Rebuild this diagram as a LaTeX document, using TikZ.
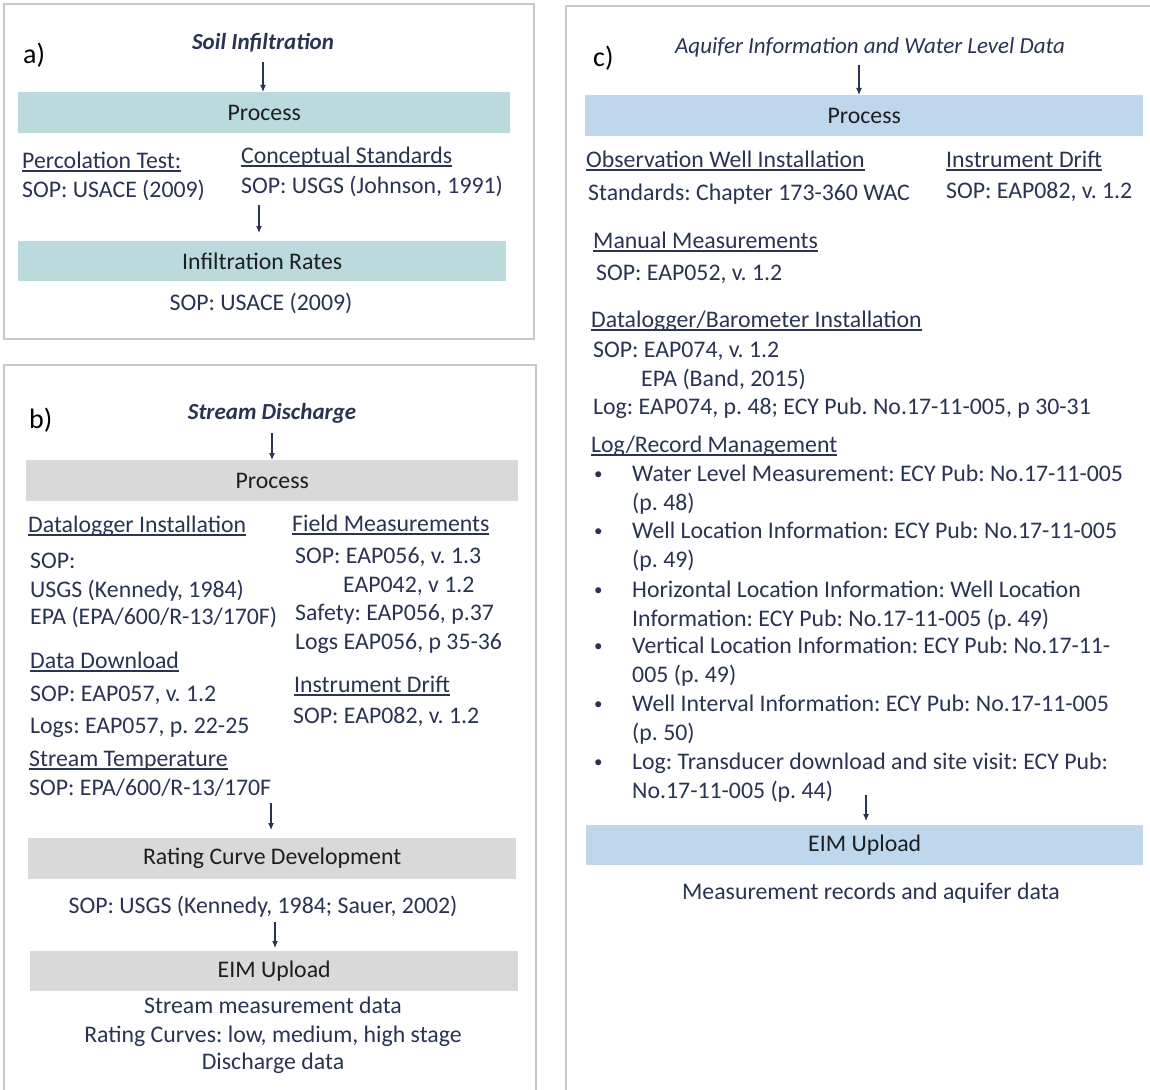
\documentclass[tikz,border=0pt]{standalone}
\usepackage{fontspec}
\setmainfont{Carlito}
\usetikzlibrary{arrows.meta}

\definecolor{navy}{RGB}{40,52,82}
\definecolor{bartext}{RGB}{30,30,30}
\definecolor{framegray}{RGB}{200,200,200}
\definecolor{tealbar}{RGB}{186,218,222}
\definecolor{graybar}{RGB}{217,217,217}
\definecolor{bluebar}{RGB}{190,215,236}

% underlined heading
\newcommand{\hdline}[1]{\setbox0\hbox{#1}\rlap{\rule[-3.5pt]{\wd0}{1.8pt}}\box0}

\tikzset{
  panel/.style={draw=framegray, line width=1.8pt},
  bar/.style={anchor=north west, inner sep=0pt, text=bartext},
  item/.style={anchor=base west, inner sep=0pt, text=navy},
  citem/.style={anchor=base, inner sep=0pt, text=navy},
  tag/.style={anchor=base west, inner sep=0pt, font=\fontsize{28}{30}\selectfont},
  flow/.style={draw=navy, line width=1.1pt, -{Latex[length=7pt,width=6pt]}}
}

\begin{document}
\frenchspacing
\begin{tikzpicture}[x=1pt,y=-1pt,font=\fontsize{23.8}{29}\selectfont]
  \useasboundingbox (0,0) rectangle (1150,1089);
  \fill[white] (0,0) rectangle (1150,1089);

  % Frames of the three panels
  \begin{scope}
    \clip (0,0) rectangle (1150,1089);
    \draw[panel] (4,4) rectangle (534,339);
    \draw[panel] (4,365) rectangle (536,1100);
    \draw[panel] (566,6) rectangle (1170,1100);
  \end{scope}

  % ---------------- a) Soil infiltration
  \node[tag] (tagA) at (23,64) {a)};
  \node[citem, font=\fontsize{23}{29}\selectfont\bfseries\itshape] (titleA) at (263,50) {Soil Infiltration};
  \node[bar, fill=tealbar, minimum width=492pt, minimum height=41pt] (procA) at (18,92) {Process};
  \node[item] (percA) at (22,168) {\hdline{Percolation Test:}};
  \node[item] (percSopA) at (22,197) {SOP: USACE (2009)};
  \node[item] (concA) at (241,163) {\hdline{Conceptual Standards}};
  \node[item] (concSopA) at (241,193) {SOP: USGS (Johnson, 1991)};
  \node[bar, fill=tealbar, minimum width=488pt, minimum height=40pt] (rateA) at (18,241) {Infiltration Rates};
  \node[citem] (rateSopA) at (261,310) {SOP: USACE (2009)};

  \coordinate (inA) at (263,62);
  \coordinate (midA) at (259,205);
  \draw[flow] (inA) -- (procA.north -| inA);
  \draw[flow, shorten >=8pt] (midA) -- (rateA.north -| midA);

  % ---------------- b) Stream discharge
  \node[tag] (tagB) at (29,428) {b)};
  \node[citem, font=\fontsize{23}{29}\selectfont\bfseries\itshape] (titleB) at (272,419) {Stream Discharge};
  \node[bar, fill=graybar, minimum width=492pt, minimum height=41pt] (procB) at (26,460) {Process};

  \node[item] (logB) at (28,532) {\hdline{Datalogger Installation}};
  \node[item] at (30,568) {SOP:};
  \node[item] at (30,597) {USGS (Kennedy, 1984)};
  \node[item] at (30,624) {EPA (EPA/600/R-13/170F)};
  \node[item] (dlB) at (30,668) {\hdline{Data Download}};
  \node[item] at (30,701) {SOP: EAP057, v. 1.2};
  \node[item] at (30,733) {Logs: EAP057, p. 22-25};
  \node[item] (tempB) at (29,766) {\hdline{Stream Temperature}};
  \node[item] (tempSopB) at (29,795) {SOP: EPA/600/R-13/170F};

  \node[item] (fieldB) at (292,531) {\hdline{Field Measurements}};
  \node[item] at (295,563) {SOP: EAP056, v. 1.3};
  \node[item] at (343,592) {EAP042, v 1.2};
  \node[item] at (295,620) {Safety: EAP056, p.37};
  \node[item] at (295,649) {Logs EAP056, p 35-36};
  \node[item] (driftB) at (294,692) {\hdline{Instrument Drift}};
  \node[item] at (293,723) {SOP: EAP082, v. 1.2};

  \node[bar, fill=graybar, minimum width=488pt, minimum height=41pt] (rateB) at (28,838) {Rating Curve Development};
  \node[citem] (rateSopB) at (263,913) {SOP: USGS (Kennedy, 1984; Sauer, 2002)};
  \node[bar, fill=graybar, minimum width=488pt, minimum height=40pt] (eimB) at (30,951) {EIM Upload};
  \node[citem] (outB1) at (273,1013) {Stream measurement data};
  \node[citem] (outB2) at (273,1042) {Rating Curves: low, medium, high stage};
  \node[citem] (outB3) at (273,1069) {Discharge data};

  \coordinate (inB) at (272,433);
  \coordinate (midB) at (271,803);
  \coordinate (lowB) at (275,922);
  \draw[flow] (inB) -- (procB.north -| inB);
  \draw[flow, shorten >=8pt] (midB) -- (rateB.north -| midB);
  \draw[flow, shorten >=3pt] (lowB) -- (eimB.north -| lowB);

  % ---------------- c) Aquifer information
  \node[tag] (tagC) at (593,67) {c)};
  \node[citem, font=\fontsize{23}{29}\selectfont\itshape] (titleC) at (870,54) {Aquifer Information and Water Level Data};
  \node[bar, fill=bluebar, minimum width=558pt, minimum height=41pt] (procC) at (585,95) {Process};

  \node[item] (wellC) at (586,167) {\hdline{Observation Well Installation}};
  \node[item] at (588,200) {Standards: Chapter 173-360 WAC};
  \node[item] (driftC) at (946,167) {\hdline{Instrument Drift}};
  \node[item] at (946,198) {SOP: EAP082, v. 1.2};
  \node[item] (manC) at (593,248) {\hdline{Manual Measurements}};
  \node[item] at (596,280) {SOP: EAP052, v. 1.2};
  \node[item] (baroC) at (591,327) {\hdline{Datalogger/Barometer Installation}};
  \node[item] at (593,357) {SOP: EAP074, v. 1.2};
  \node[item] at (641,386) {EPA (Band, 2015)};
  \node[item] at (593,414) {Log: EAP074, p. 48; ECY Pub. No.17-11-005, p 30-31};
  \node[item] (recC) at (591,452) {\hdline{Log/Record Management}};

  % bullet list
  \foreach \y/\one/\two in {
      481/{Water Level Measurement: ECY Pub: No.17-11-005}/{(p. 48)},
      538/{Well Location Information: ECY Pub: No.17-11-005}/{(p. 49)},
      597/{Horizontal Location Information: Well Location}/{Information: ECY Pub: No.17-11-005 (p. 49)},
      653/{Vertical Location Information: ECY Pub: No.17-11-}/{005 (p. 49)},
      711/{Well Interval Information: ECY Pub: No.17-11-005}/{(p. 50)},
      769/{Log: Transducer download and site visit: ECY Pub:}/{No.17-11-005 (p. 44)}}{
    \node[item, font=\fontsize{17}{20}\selectfont] at (594,\y-2) {\textbullet};
    \node[item] at (632,\y) {\one};
    \node[item] at (632,\y+29) {\two};
  }

  \node[bar, fill=bluebar, minimum width=557pt, minimum height=40pt] (eimC) at (586,825) {EIM Upload};
  \node[citem] (outC) at (871,899) {Measurement records and aquifer data};

  \coordinate (inC) at (859,65);
  \coordinate (lowC) at (866,795);
  \draw[flow] (inC) -- (procC.north -| inC);
  \draw[flow, shorten >=4pt] (lowC) -- (eimC.north -| lowC);
\end{tikzpicture}
\end{document}
